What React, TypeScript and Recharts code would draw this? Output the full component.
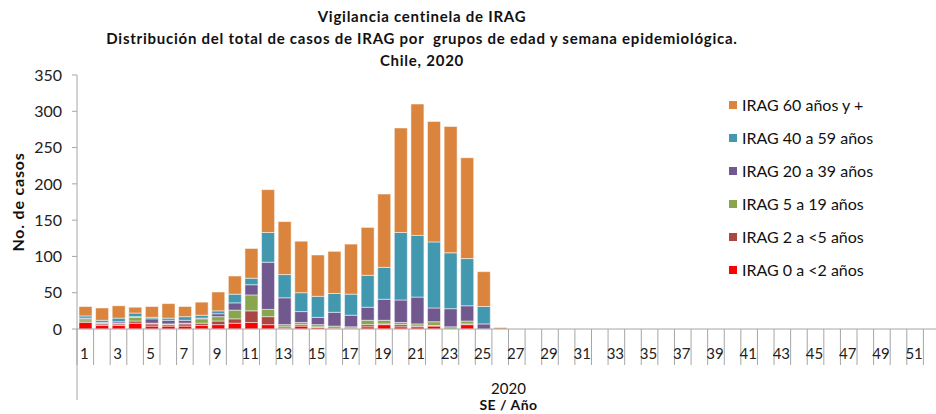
import { BarChart, Bar, XAxis, YAxis, Label } from 'recharts'

// semana epidemiológica 1..52
const weeks = Array.from({ length: 52 }, (_, i) => i + 1)

// casos por grupo de edad, SE 1 a 26 (resto sin datos)
const age0to2 = [9, 5, 5, 8, 4, 4, 4, 5, 6, 8, 9, 6, 1, 4, 2, 1, 1, 3, 6, 3, 3, 4, 0, 6, 0, 0]
const age2to5 = [2, 2, 2, 3, 3, 2, 3, 3, 5, 6, 16, 11, 2, 2, 1, 0, 0, 3, 1, 3, 1, 1, 0, 1, 0, 0]
const age5to19 = [3, 1, 1, 5, 1, 1, 1, 6, 6, 12, 22, 10, 3, 3, 3, 3, 2, 6, 5, 3, 3, 5, 3, 4, 0, 0]
const age20to39 = [1, 1, 2, 1, 6, 5, 4, 1, 4, 10, 14, 65, 37, 15, 10, 19, 16, 18, 29, 31, 37, 19, 25, 21, 7, 0]
const age40to59 = [3, 3, 5, 5, 2, 3, 5, 4, 4, 12, 9, 41, 32, 26, 29, 26, 29, 44, 44, 93, 85, 91, 77, 65, 24, 0]
const age60plus = [13, 17, 17, 8, 15, 20, 14, 18, 26, 25, 41, 59, 73, 71, 57, 58, 69, 66, 101, 144, 181, 166, 174, 139, 48, 2]

const yTicks = [0, 50, 100, 150, 200, 250, 300, 350]

const series = [
  { key: 'a0', name: 'IRAG 0 a <2 años', color: '#FF0000', values: age0to2 },
  { key: 'a2', name: 'IRAG 2 a <5 años', color: '#AA4643', values: age2to5 },
  { key: 'a5', name: 'IRAG 5 a 19 años', color: '#89A54E', values: age5to19 },
  { key: 'a20', name: 'IRAG 20 a 39 años', color: '#71588F', values: age20to39 },
  { key: 'a40', name: 'IRAG 40 a 59 años', color: '#4198AF', values: age40to59 },
  { key: 'a60', name: 'IRAG 60 años y +', color: '#DB843D', values: age60plus },
]

const data = weeks.map((w, i) => {
  const row: Record<string, number | null> = { week: w }
  series.forEach(s => {
    row[s.key] = i < s.values.length ? s.values[i] : null
  })
  return row
})

const W = 960
const H = 414
const margin = { top: 75, right: 20, bottom: 0, left: 0 }
const yAxisWidth = 77
const xAxisHeight = 85
const bandWidth = (W - margin.left - margin.right - yAxisWidth) / weeks.length
const font = 'Lato, "Open Sans", sans-serif'
const axisColor = '#A6A6A6'

const XTick = (props: any) => {
  const { x, y, payload, index } = props
  const left = x - bandWidth / 2
  return (
    <g>
      <line x1={left} x2={left} y1={y} y2={y + 36} stroke={axisColor} />
      {index === 0 && <line x1={left} x2={left} y1={y} y2={y + 71} stroke={axisColor} />}
      {index === weeks.length - 1 && (
        <line x1={x + bandWidth / 2} x2={x + bandWidth / 2} y1={y} y2={y + 71} stroke={axisColor} />
      )}
      {index % 2 === 0 && (
        <text x={x - 1} y={y + 30} textAnchor="middle" fontSize={15} fill="#222" fontFamily={font}>
          {payload.value}
        </text>
      )}
    </g>
  )
}

export default function App() {
  return (
    <div style={{ position: 'absolute', left: 0, top: 0, width: 936, height: 414, overflow: 'hidden', background: '#fff', fontFamily: font }}>
      <div style={{ position: 'absolute', left: 0, top: 5, width: 844, textAlign: 'center', fontWeight: 700, fontSize: 15, letterSpacing: 0.75, lineHeight: '22px', color: '#111' }}>
        <div>Vigilancia centinela de IRAG</div>
        <div style={{ whiteSpace: 'pre' }}>Distribución del total de casos de IRAG por  grupos de edad y semana epidemiológica.</div>
        <div>Chile, 2020</div>
      </div>
      <BarChart width={W} height={H} data={data} margin={margin} barSize={13}>
        <XAxis
          dataKey="week"
          height={xAxisHeight}
          interval={0}
          tickLine={false}
          tickSize={0}
          tickMargin={0}
          tick={XTick}
          axisLine={{ stroke: axisColor }}
        >
          <Label
            content={({ viewBox }: any) => (
              <g fontFamily={font} fill="#111">
                <text x={viewBox.x + viewBox.width / 2} y={viewBox.y + 65} textAnchor="middle" fontSize={15}>2020</text>
                <text x={viewBox.x + viewBox.width / 2} y={viewBox.y + 81} textAnchor="middle" fontSize={14} fontWeight={700} letterSpacing={0.5}>SE / Año</text>
              </g>
            )}
          />
        </XAxis>
        <YAxis
          width={yAxisWidth}
          domain={[0, 350]}
          ticks={yTicks}
          interval={0}
          tickSize={5}
          tickMargin={10}
          axisLine={{ stroke: axisColor }}
          tickLine={{ stroke: axisColor }}
          tick={{ fill: '#222', fontSize: 16, fontFamily: font }}
        >
          <Label
            content={({ viewBox }: any) => (
              <text
                x={17}
                y={viewBox.y + viewBox.height / 2}
                transform={`rotate(-90 17 ${viewBox.y + viewBox.height / 2})`}
                textAnchor="middle"
                dominantBaseline="central"
                fontSize={16}
                fontWeight={700}
                letterSpacing={0.8}
                fontFamily={font}
                fill="#111"
              >
                No. de casos
              </text>
            )}
          />
        </YAxis>
        {series.map(s => (
          <Bar
            key={s.key}
            dataKey={s.key}
            name={s.name}
            stackId="a"
            fill={s.color}
            stroke="#ffffff"
            strokeOpacity={0.5}
            strokeWidth={1}
            isAnimationActive={false}
          />
        ))}
      </BarChart>
      <div style={{ position: 'absolute', left: 729, top: 88 }}>
        {[...series].reverse().map(s => (
          <div key={s.key} style={{ display: 'flex', alignItems: 'center', height: 33, fontSize: 16, color: '#111' }}>
            <span style={{ display: 'inline-block', width: 8, height: 8, background: s.color, marginRight: 5 }} />
            {s.name}
          </div>
        ))}
      </div>
    </div>
  )
}
